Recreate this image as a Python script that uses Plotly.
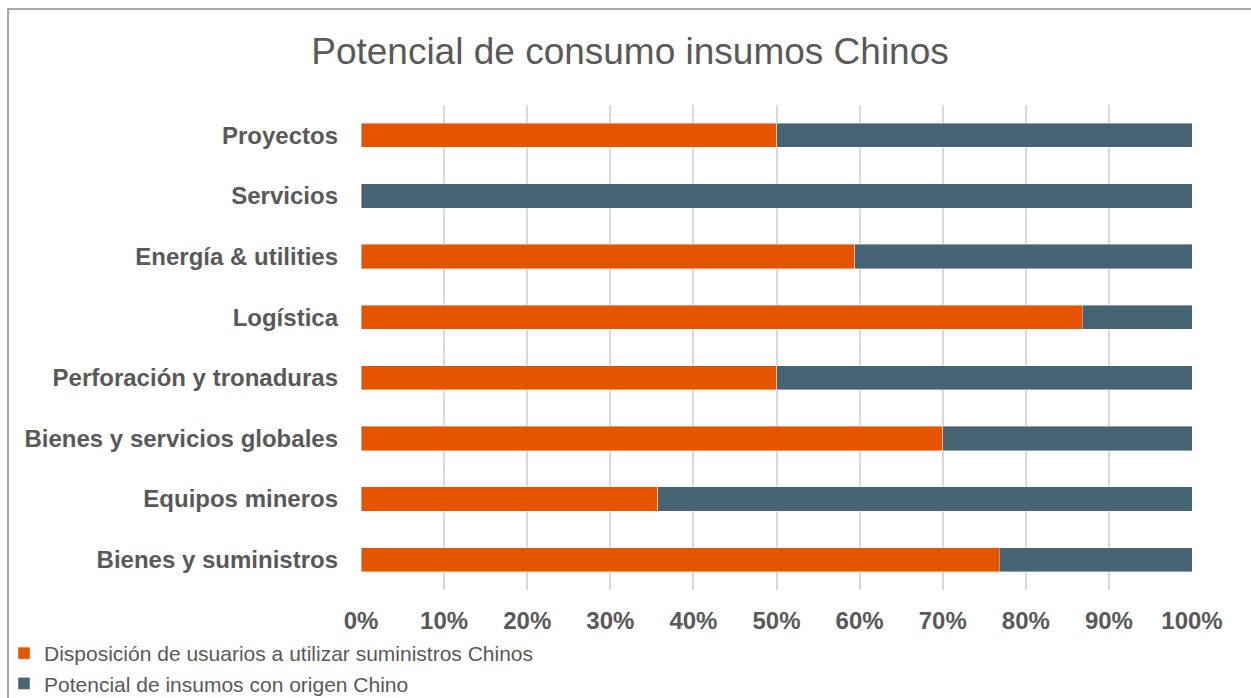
import plotly.graph_objects as go

categories = ["Proyectos", "Servicios", "Energía &amp; utilities", "Logística",
              "Perforación y tronaduras", "Bienes y servicios globales",
              "Equipos mineros", "Bienes y suministros"]
disposicion = [0.50, 0.0, 0.594, 0.868, 0.50, 0.70, 0.357, 0.768]
potencial = [round(1 - v, 3) for v in disposicion]
x_ticks = [0, 0.1, 0.2, 0.3, 0.4, 0.5, 0.6, 0.7, 0.8, 0.9, 1.0]

FONT = "Liberation Sans, Arial, sans-serif"
GRAY_TXT = "#595959"
ORANGE = "#E65400"
SLATE = "#476475"

W, H = 1251, 698
L, R, T, B = 361, 59, 105, 108
pw, ph = W - L - R, H - T - B

fig = go.Figure()
fig.add_trace(go.Bar(
    y=categories, x=disposicion, orientation="h",
    name="Disposición de usuarios a utilizar suministros Chinos",
    marker=dict(color=ORANGE, line=dict(color="rgba(255,255,255,0.5)", width=0.8)),
    legendgroup="a", hoverinfo="x+y"))
fig.add_trace(go.Bar(
    y=categories, x=potencial, orientation="h",
    name="Potencial de insumos con origen Chino",
    marker=dict(color=SLATE, line=dict(color="rgba(255,255,255,0.5)", width=0.8)),
    legendgroup="b", hoverinfo="x+y"))

def px_x(p):
    return (p - L) / pw

def px_y(p):
    return (H - B - p) / ph

fig.update_layout(
    width=W, height=H,
    margin=dict(l=L, r=R, t=T, b=B, pad=0, autoexpand=False),
    paper_bgcolor="white", plot_bgcolor="white",
    barmode="stack", bargap=0.6,
    font=dict(family=FONT, color=GRAY_TXT),
    title=dict(text="Potencial de consumo insumos Chinos",
               font=dict(family=FONT, size=37, color=GRAY_TXT),
               x=630 / W, xanchor="center", xref="container",
               y=1 - 51 / H, yanchor="middle", yref="container"),
    xaxis=dict(range=[0, 1], tickvals=x_ticks, tickformat=".0%",
               showgrid=True, gridcolor="#d9d9d9", gridwidth=1.5,
               zeroline=False, showline=False, ticks="", automargin=False,
               ticklabelstandoff=14,
               tickfont=dict(family=FONT, size=24, color=GRAY_TXT, weight="bold")),
    yaxis=dict(autorange="reversed", showgrid=False, zeroline=False,
               showline=False, ticks="", ticklabelstandoff=22, automargin=False,
               tickfont=dict(family=FONT, size=24, color=GRAY_TXT, weight="bold")),
    legend=dict(orientation="v", traceorder="grouped", tracegroupgap=0,
                x=px_x(4), xanchor="left", y=px_y(633), yanchor="top",
                font=dict(family=FONT, size=21, color=GRAY_TXT),
                bgcolor="rgba(0,0,0,0)", borderwidth=0),
    showlegend=True,
    shapes=[dict(type="rect", xref="paper", yref="paper",
                 x0=px_x(8), x1=px_x(1300), y0=px_y(760), y1=px_y(9),
                 line=dict(color="#8c8c8c", width=1.5), fillcolor="rgba(0,0,0,0)",
                 layer="below")],
)

fig.write_html("out.html")
